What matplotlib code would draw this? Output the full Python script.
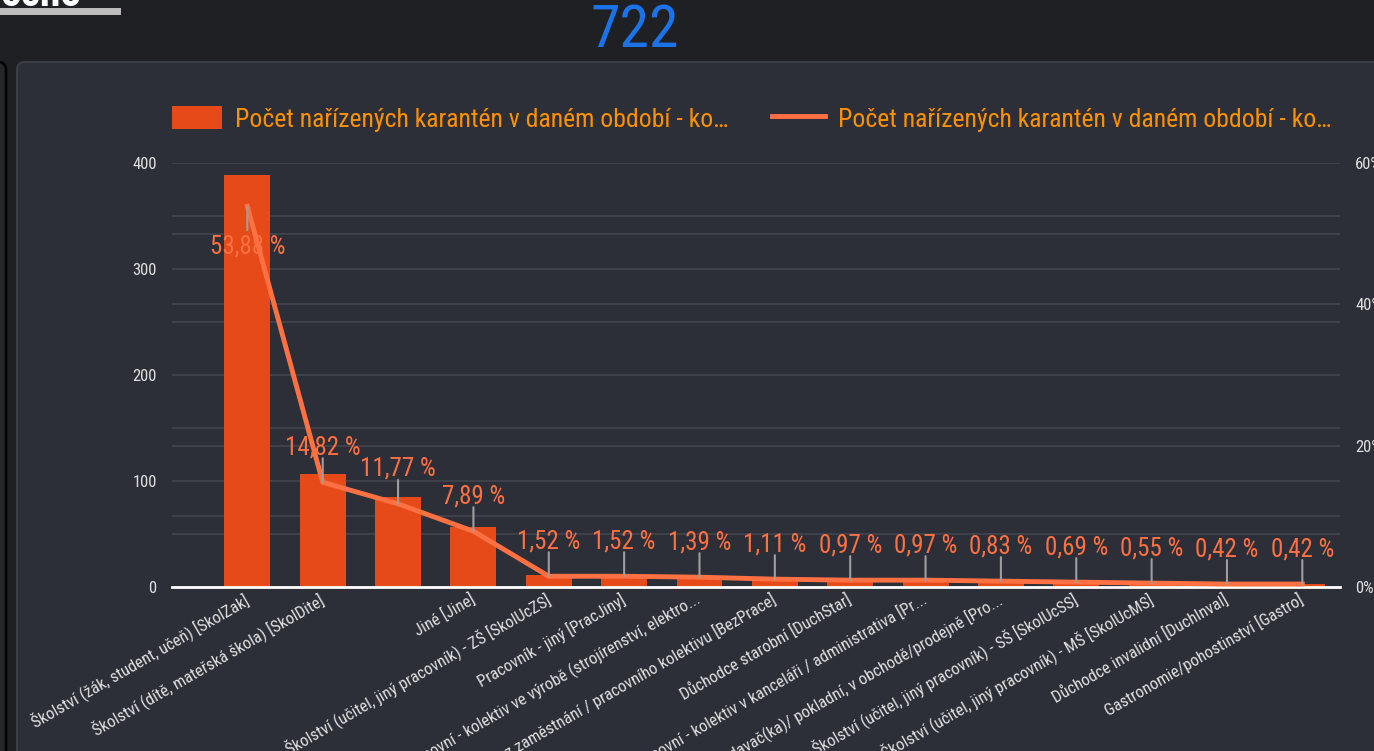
import matplotlib
matplotlib.use("Agg")
import matplotlib.pyplot as plt
from matplotlib import font_manager
from matplotlib.patches import FancyBboxPatch, Patch
from matplotlib.lines import Line2D
from matplotlib.transforms import IdentityTransform

# data
categories = [
    "Školství (žák, student, učeň) [SkolZak]",
    "Školství (dítě, mateřská škola) [SkolDite]",
    "",
    "Jiné [Jine]",
    "Školství (učitel, jiný pracovník) - ZŠ [SkolUcZS]",
    "Pracovník - jiný [PracJiny]",
    "Pracovní - kolektiv ve výrobě (strojírenství, elektro...",
    "Bez zaměstnání / pracovního kolektivu [BezPrace]",
    "Důchodce starobní [DuchStar]",
    "Pracovní - kolektiv v kanceláři / administrativa [Pr...",
    "Prodavač(ka)/ pokladní, v obchodě/prodejně [Pro...",
    "Školství (učitel, jiný pracovník) - SŠ [SkolUcSS]",
    "Školství (učitel, jiný pracovník) - MŠ [SkolUcMS]",
    "Důchodce invalidní [DuchInval]",
    "Gastronomie/pohostinství [Gastro]",
]
counts = [389, 107, 85, 57, 11, 11, 10, 8, 7, 7, 6, 5, 4, 3, 3]
shares = [53.88, 14.82, 11.77, 7.89, 1.52, 1.52, 1.39, 1.11, 0.97, 0.97, 0.83, 0.69, 0.55, 0.42, 0.42]
total = 722
legend_label = "Počet nařízených karantén v daném období - ko…"
left_ticks = [0, 100, 200, 300, 400]
right_ticks = [0, 20, 40, 60]


def pick_font(names):
    for n in names:
        try:
            font_manager.findfont(n, fallback_to_default=False)
            return n
        except ValueError:
            continue
    return "DejaVu Sans"


font = pick_font(["Roboto Condensed", "Liberation Sans Narrow", "Roboto"])
narrow = font != "Roboto"
k = 1.0 if narrow else 0.82  # shrink a wide font so texts keep their length
plt.rcParams["font.family"] = [font, "DejaVu Sans"]

W, H = 1374, 751
BG = "#1f2023"
PANEL = "#2c2f38"
GRID = "#3e414a"
BAR = "#e64a19"
LINE = "#ff7043"
LEGEND_TXT = "#ff9100"
TICK_TXT = "#e0e0e0"

fig = plt.figure(figsize=(W / 100, H / 100), dpi=100, facecolor=BG)

# card behind the chart
fig.patches.append(FancyBboxPatch((17, -30), 1420, 751 - 62 + 30, boxstyle="round,pad=0,rounding_size=8",
                                  transform=IdentityTransform(), facecolor=PANEL, edgecolor="#3b3e46",
                                  lw=1.5, zorder=-5))
fig.patches.append(FancyBboxPatch((-40, -30), 46, 751 - 62 + 30, boxstyle="round,pad=0,rounding_size=8",
                                  transform=IdentityTransform(), facecolor="#26272b", edgecolor="#050505",
                                  lw=2, zorder=-5))

# header leftovers cut at the top of the screenshot
fig.text(0, 1 - 6 / H, "očno", color="white", fontsize=30, fontweight="bold", va="baseline", ha="left")
fig.lines.append(Line2D([0, 117], [H - 11, H - 11], transform=IdentityTransform(), color="#bdbdbd", lw=5))
fig.text(635 / W, 1 - 47 / H, str(total), color="#1a73e8", fontsize=43 * k, ha="center", va="baseline")

rect = [172 / W, 1 - 587 / H, 1168 / W, 424 / H]
ax_bg = fig.add_axes(rect)
ax = fig.add_axes(rect, sharex=ax_bg)
ax_line = fig.add_axes(rect, sharex=ax_bg)
for a in (ax_bg, ax, ax_line):
    a.set_facecolor("none")
    for s in a.spines.values():
        s.set_visible(False)
ax_bg.set_zorder(1)
ax.set_zorder(2)
ax_line.set_zorder(3)

x = list(range(len(categories)))

# right scale grid (10 % steps) under the bars
ax_bg.set_ylim(0, 60)
ax_bg.set_yticks(range(0, 61, 10))
ax_bg.tick_params(left=False, labelleft=False, bottom=False, labelbottom=False)
ax_bg.grid(axis="y", color=GRID, lw=1.5)
ax_bg.grid(axis="x", visible=False)

# bars on the left scale
ax.bar(x, counts, width=0.61, color=BAR, zorder=2)
ax.set_ylim(0, 400)
ax.set_xlim(-1.0, 14.5)
ax.set_yticks(left_ticks)
ax.set_yticks(range(50, 400, 100), minor=True)
ax.grid(axis="y", which="both", color=GRID, lw=1.5, zorder=0)
ax.set_axisbelow(True)
ax.tick_params(axis="y", which="both", length=0, pad=11, labelsize=12 * k, labelcolor=TICK_TXT)
ax.set_xticks(x)
ax.set_xticklabels(categories, rotation=30, ha="right", va="center", rotation_mode="anchor",
                   fontsize=12 * k, color=TICK_TXT)
ax.tick_params(axis="x", length=0, pad=8)
ax.spines["bottom"].set_visible(True)
ax.spines["bottom"].set_color("#ffffff")
ax.spines["bottom"].set_linewidth(2)

# share line on the right scale
ax_line.plot(x, shares, color=LINE, lw=3.5, zorder=3, solid_joinstyle="round")
ax_line.set_ylim(0, 60)
ax_line.yaxis.tick_right()
ax_line.set_yticks(right_ticks)
ax_line.set_yticklabels([f"{t}%" for t in right_ticks])
ax_line.tick_params(axis="y", length=0, pad=11, labelsize=12 * k, labelcolor=TICK_TXT)
ax_line.tick_params(axis="x", bottom=False, labelbottom=False)

for i, s in enumerate(shares):
    below = s > 50
    sign = -1 if below else 1
    ax_line.annotate("", xy=(i, s), xytext=(0, sign * 24), textcoords="offset pixels",
                     arrowprops=dict(arrowstyle="-", color="#9e9e9e", lw=1.5, shrinkA=0, shrinkB=0), zorder=4)
    ax_line.annotate(f"{s:.2f} %".replace(".", ","), xy=(i, s), xytext=(0, sign * 28), textcoords="offset pixels",
                     ha="center", va="top" if below else "baseline", color=LINE, fontsize=18 * k, zorder=5)

# legend, two entries spread over the top of the card
leg_fs = 18.5 * k
leg_kw = dict(frameon=False, fontsize=leg_fs, labelcolor=LEGEND_TXT, borderpad=0, borderaxespad=0,
              handleheight=1.0, handletextpad=0.5, loc="center left")
fig.legend([Patch(facecolor=BAR)], [legend_label], bbox_to_anchor=(172 / W, 1 - 119 / H),
           handlelength=50 / (leg_fs * 100 / 72), **leg_kw)
fig.legend([Line2D([], [], color=LINE, lw=3.5)], [legend_label], bbox_to_anchor=(772 / W, 1 - 119 / H),
           handlelength=53 / (leg_fs * 100 / 72), **leg_kw)

fig.savefig("out.png", dpi=100, facecolor=BG)
